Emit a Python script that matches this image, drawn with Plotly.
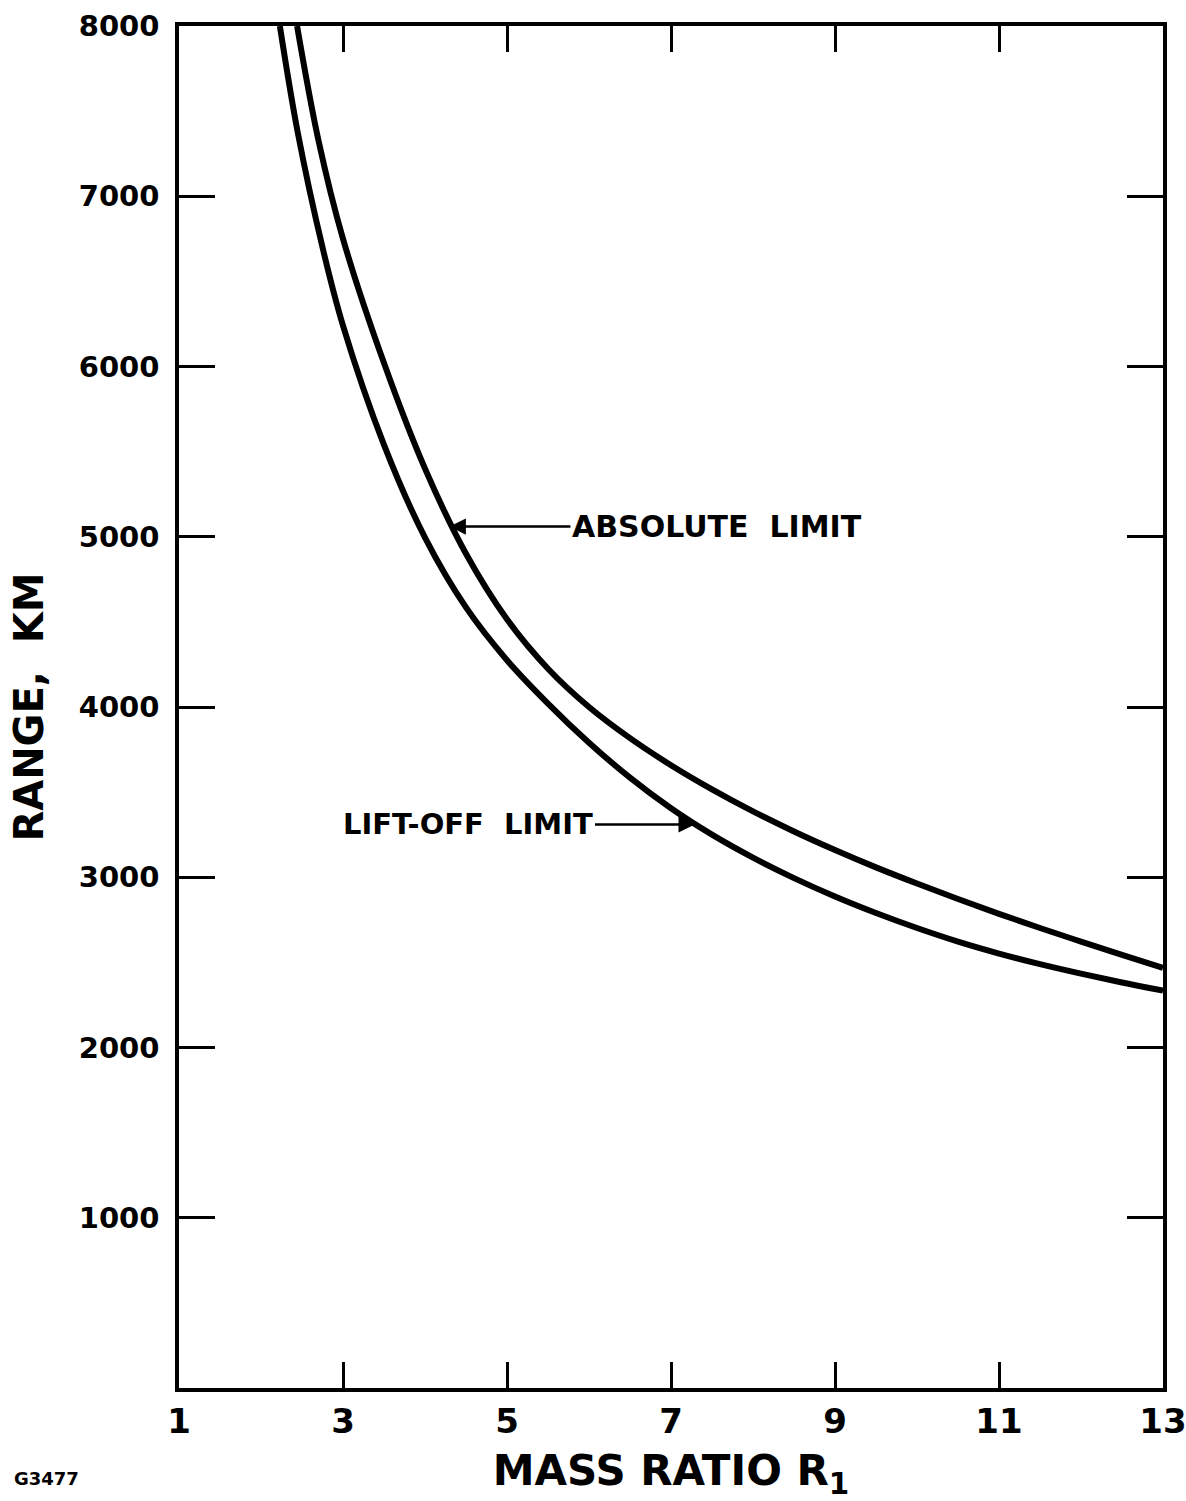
import plotly.graph_objects as go

# Mass ratio values (x) and ranges in km (y)
abs_x = [2.44, 2.7, 3.0, 3.5, 4.0, 4.5, 5.0, 5.5, 6.0, 6.5, 7.0, 7.5, 8.0, 8.5, 9.0,
         9.5, 10.0, 10.5, 11.0, 11.5, 12.0, 12.5, 13.0]
abs_y = [8000, 7330, 6750, 6020, 5400, 4900, 4515, 4225, 4000, 3817, 3658, 3516, 3387, 3269, 3160,
         3058, 2963, 2872, 2785, 2702, 2622, 2544, 2468]

lift_x = [2.23, 2.45, 2.75, 3.0, 3.5, 4.0, 4.5, 5.0, 5.5, 6.0, 6.5, 7.0, 7.5, 8.0, 8.5,
          9.0, 9.5, 10.0, 10.5, 11.0, 11.5, 12.0, 12.5, 13.0]
lift_y = [8000, 7370, 6700, 6240, 5540, 4995, 4585, 4275, 4020, 3790, 3585, 3405, 3250, 3115, 2995,
          2887, 2790, 2702, 2622, 2552, 2490, 2434, 2382, 2334]

x_ticks = [1, 3, 5, 7, 9, 11, 13]
y_ticks = [1000, 2000, 3000, 4000, 5000, 6000, 7000, 8000]

FONT = "DejaVu Sans"

fig = go.Figure()
fig.add_trace(go.Scatter(x=abs_x, y=abs_y, mode="lines", name="ABSOLUTE LIMIT",
                         line=dict(color="black", width=6, shape="spline", smoothing=1.0)))
fig.add_trace(go.Scatter(x=lift_x, y=lift_y, mode="lines", name="LIFT-OFF LIMIT",
                         line=dict(color="black", width=6, shape="spline", smoothing=1.0)))

# labels with arrows (text box centred at the arrow tail)
fig.add_annotation(x=4.30, y=5060, ax=7.56, ay=5060, axref="x", ayref="y",
                   xref="x", yref="y", text="<b>ABSOLUTE  LIMIT</b>", showarrow=True,
                   arrowhead=2, arrowsize=1.3, arrowwidth=2.5, arrowcolor="black",
                   font=dict(family=FONT, size=30, color="black"))
fig.add_annotation(x=7.29, y=3310, ax=4.53, ay=3310, axref="x", ayref="y",
                   xref="x", yref="y", text="<b>LIFT-OFF  LIMIT</b>", showarrow=True,
                   arrowhead=2, arrowsize=1.3, arrowwidth=2.5, arrowcolor="black",
                   font=dict(family=FONT, size=29, color="black"))
fig.add_annotation(x=-0.1697, y=-0.0661, xref="paper", yref="paper", text="<b>G3477</b>",
                   showarrow=False, xanchor="left", yanchor="middle",
                   font=dict(family=FONT, size=18, color="black"))

fig.update_layout(
    width=1186, height=1501,
    margin=dict(l=179, r=23, t=26, b=113),
    paper_bgcolor="white", plot_bgcolor="white",
    showlegend=False,
    font=dict(family=FONT, color="black"),
)
fig.update_xaxes(
    range=[1, 13], tickvals=x_ticks, ticktext=[f"<b>{v}</b>" for v in x_ticks],
    ticks="inside", ticklen=26, tickwidth=3, tickcolor="black",
    showline=True, linewidth=3.5, linecolor="black", mirror="ticks",
    showgrid=False, zeroline=False, automargin=False, ticklabeloverflow="allow",
    tickfont=dict(family=FONT, size=34, color="black"),
    title=dict(text="<b>MASS RATIO R<sub>1</sub></b>", standoff=22,
               font=dict(family=FONT, size=42, color="black")),
)
fig.update_yaxes(
    range=[0, 8000], tickvals=y_ticks, ticktext=[f"<b>{v}</b>" for v in y_ticks],
    ticks="inside", ticklen=36, tickwidth=3, tickcolor="black",
    showline=True, linewidth=3.5, linecolor="black", mirror="ticks",
    showgrid=False, zeroline=False, ticklabelstandoff=10, automargin=False,
    ticklabeloverflow="allow",
    tickfont=dict(family=FONT, size=29, color="black"),
    title=dict(text="<b>RANGE,  KM</b>", standoff=24,
               font=dict(family=FONT, size=40, color="black")),
)

fig.write_html("out.html")
